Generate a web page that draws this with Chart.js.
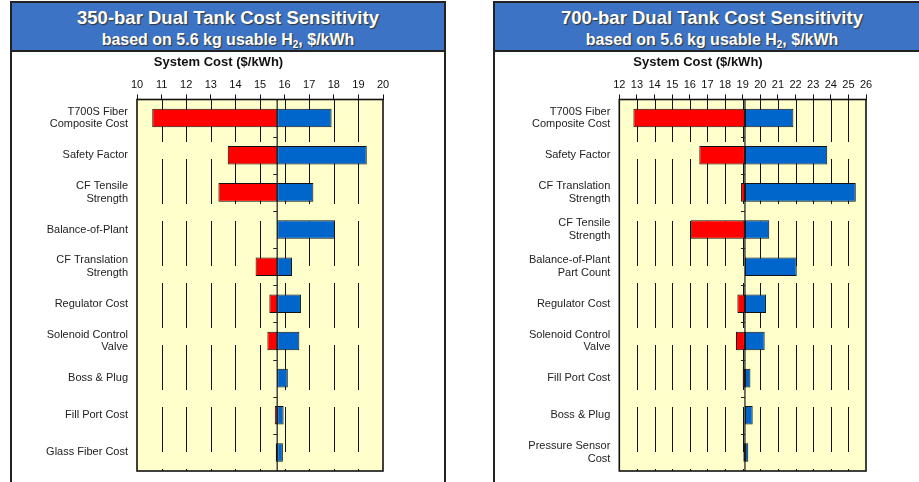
<!DOCTYPE html>
<html>
<head>
<meta charset="utf-8">
<script src="https://cdn.jsdelivr.net/npm/chart.js@4"></script>
<style>
  html, body { margin:0; padding:0; background:#fff; width:919px; height:482px; overflow:hidden; font-family:"Liberation Sans", Arial, sans-serif; }
  .panel { position:absolute; top:1px; box-sizing:border-box; border:2px solid #222; border-bottom:none; background:#fff; }
  .tbar { position:absolute; left:0; top:0; right:0; height:47px; background:#3C73C5; border-bottom:2px solid #222; color:#fff; text-align:center; font-weight:bold; text-shadow:1px 1px 1px #333; }
  .t1 { position:absolute; left:0; right:0; top:4px; font-size:18.5px; line-height:22px; }
  .t2 { position:absolute; left:0; right:0; top:27px; font-size:16px; line-height:19px; }
  .t2 sub { font-size:10px; vertical-align:-3px; line-height:0; }
  canvas { position:absolute; }
</style>
</head>
<body>
<div class="panel" style="left:10px; width:436px; height:481px;">
  <div class="tbar"><div class="t1">350-bar Dual Tank Cost Sensitivity</div><div class="t2">based on 5.6 kg usable H<sub>2</sub>, $/kWh</div></div>
</div>
<div class="panel" style="left:493px; width:440px; height:481px;">
  <div class="tbar"><div class="t1" style="width:434px">700-bar Dual Tank Cost Sensitivity</div><div class="t2" style="width:434px">based on 5.6 kg usable H<sub>2</sub>, $/kWh</div></div>
</div>
<canvas id="c350" style="left:12px; top:51px;" width="413" height="431"></canvas>
<canvas id="c700" style="left:495px; top:51px;" width="406" height="431"></canvas>
<script>
// ---- 350-bar data ----
const cats350 = [
  ['T700S Fiber','Composite Cost'], 'Safety Factor', ['CF Tensile','Strength'], 'Balance-of-Plant',
  ['CF Translation','Strength'], 'Regulator Cost', ['Solenoid Control','Valve'], 'Boss & Plug',
  'Fill Port Cost', 'Glass Fiber Cost'
];
const base350 = 15.70;
const low350  = [10.62, 13.69, 13.31, null, 14.82, 15.38, 15.30, null, 15.60, 15.64];
const high350 = [17.91, 19.34, 17.17, 18.05, 16.30, 16.67, 16.60, 16.13, 15.96, 15.93];
const ticks350 = [10, 11, 12, 13, 14, 15, 16, 17, 18, 19, 20];

// ---- 700-bar data ----
const cats700 = [
  ['T700S Fiber','Composite Cost'], 'Safety Factor', ['CF Translation','Strength'], ['CF Tensile','Strength'],
  ['Balance-of-Plant','Part Count'], 'Regulator Cost', ['Solenoid Control','Valve'], 'Fill Port Cost',
  'Boss & Plug', ['Pressure Sensor','Cost']
];
const base700 = 19.13;
const low700  = [12.80, 16.54, 18.91, 16.05, null, 18.70, 18.62, 19.00, null, 19.04];
const high700 = [21.88, 23.80, 25.42, 20.51, 22.07, 20.33, 20.25, 19.44, 19.57, 19.32];
const ticks700 = [12, 13, 14, 15, 16, 17, 18, 19, 20, 21, 22, 23, 24, 25, 26];

const axisTitle = 'System Cost ($/kWh)';
const FONT = '"Liberation Sans", Arial, sans-serif';

const framePlugin = {
  id: 'frame',
  beforeDatasetsDraw(chart, args, opts) {
    const {ctx, chartArea: a, scales} = chart;
    ctx.save();
    ctx.fillStyle = '#FFFFCC';
    ctx.fillRect(a.left, a.top, a.right - a.left, a.bottom - a.top);
    // vertical grid lines (long dashes)
    ctx.strokeStyle = '#111';
    ctx.lineWidth = 1;
    ctx.setLineDash([45, 17]);
    ctx.lineDashOffset = 2.5;
    opts.ticks.forEach(v => {
      if (v === opts.ticks[0] || v === opts.ticks[opts.ticks.length - 1]) return;
      const x = Math.round(scales.x.getPixelForValue(v)) + 0.5;
      ctx.beginPath(); ctx.moveTo(x, a.top); ctx.lineTo(x, a.bottom); ctx.stroke();
    });
    ctx.setLineDash([]);
    // centre axis at base value
    const bx = scales.x.getPixelForValue(opts.base);
    ctx.strokeStyle = '#444';
    ctx.lineWidth = 1.5;
    ctx.beginPath(); ctx.moveTo(bx, a.top); ctx.lineTo(bx, a.bottom); ctx.stroke();
    const n = chart.data.labels.length;
    ctx.lineWidth = 1;
    ctx.strokeStyle = '#222';
    for (let i = 1; i < n; i++) {
      const y = Math.round((scales.y.getPixelForValue(i - 1) + scales.y.getPixelForValue(i)) / 2) + 0.5;
      ctx.beginPath(); ctx.moveTo(bx - 4, y); ctx.lineTo(bx, y); ctx.stroke();
    }
    ctx.restore();
  },
  afterDraw(chart, args, opts) {
    const {ctx, chartArea: a} = chart;
    ctx.save();
    ctx.strokeStyle = '#111';
    ctx.lineWidth = 1.6;
    ctx.strokeRect(a.left, a.top, a.right - a.left, a.bottom - a.top);
    ctx.fillStyle = '#111';
    ctx.font = 'bold 13px ' + FONT;
    ctx.textAlign = 'center';
    ctx.textBaseline = 'middle';
    ctx.fillText(opts.title, chart.width / 2, 11);
    ctx.restore();
  }
};

function makeChart(id, cats, base, low, high, ticks, yWidth, padRight) {
  const redData = low.map(v => v === null ? null : [v, base]);
  const blueData = high.map(v => v === null ? null : [base, v]);
  return new Chart(document.getElementById(id), {
    type: 'bar',
    data: {
      labels: cats,
      datasets: [
        { data: redData, backgroundColor: '#FF0000', borderColor: '#111', borderWidth: 1, borderSkipped: false, grouped: false, barPercentage: 1, categoryPercentage: 0.5 },
        { data: blueData, backgroundColor: '#0066CC', borderColor: '#111', borderWidth: 1, borderSkipped: false, grouped: false, barPercentage: 1, categoryPercentage: 0.5 }
      ]
    },
    options: {
      indexAxis: 'y',
      responsive: false,
      animation: false,
      layout: { padding: { left: 0, right: padRight, top: 22.5, bottom: 11 } },
      plugins: {
        legend: { display: false },
        tooltip: { enabled: false },
        title: { display: false },
        frame: { base: base, ticks: ticks, title: axisTitle }
      },
      scales: {
        x: {
          position: 'top',
          min: ticks[0], max: ticks[ticks.length - 1],
          afterBuildTicks: s => { s.ticks = ticks.map(v => ({ value: v })); },
          afterFit: s => { s.height = 26; s.paddingLeft = 0; s.paddingRight = 0; },
          ticks: { color: '#111', font: { family: FONT, size: 11 }, padding: 3, maxRotation: 0, autoSkip: false },
          grid: { drawOnChartArea: false, drawTicks: true, tickLength: 5, color: '#111', lineWidth: 1 },
          border: { display: false }
        },
        y: {
          afterFit: s => { s.width = yWidth; s.paddingTop = 0; s.paddingBottom = 0; },
          ticks: { color: '#222', font: { family: FONT, size: 11, lineHeight: 1.16 }, padding: 9, autoSkip: false },
          grid: { display: false, drawTicks: false },
          border: { display: false }
        }
      }
    },
    plugins: [framePlugin]
  });
}

makeChart('c350', cats350, base350, low350, high350, ticks350, 125, 42);
makeChart('c700', cats700, base700, low700, high700, ticks700, 124.3, 35);
</script>
</body>
</html>
